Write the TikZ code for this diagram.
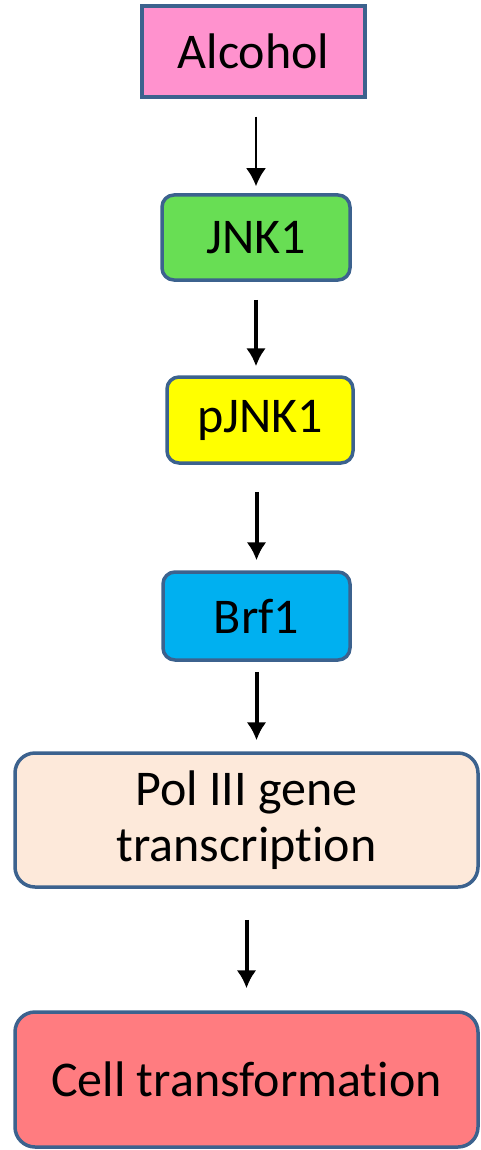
\documentclass[tikz,border=0pt]{standalone}
\usepackage{fontspec}
\setmainfont[Ligatures=NoCommon]{Carlito}
\usetikzlibrary{arrows.meta}
\definecolor{bord}{RGB}{60,98,142}
\definecolor{cpink}{RGB}{255,146,206}
\definecolor{cgreen}{RGB}{104,222,84}
\definecolor{cyellow}{RGB}{255,255,0}
\definecolor{cblue}{RGB}{0,176,240}
\definecolor{cpeach}{RGB}{253,233,218}
\definecolor{cred}{RGB}{255,124,128}
\tikzset{
  box/.style={draw=bord, line width=3.5pt, inner sep=0pt, align=center,
    font=\fontsize{50}{56}\selectfont, text=black},
  rbox/.style={box, rounded corners=12pt},
  bigbox/.style={box, rounded corners=20pt},
  arr/.style={line width=4pt, -{Latex[length=18pt,width=20pt]}},
}
\begin{document}
\begin{tikzpicture}[x=1pt,y=-1pt]
\useasboundingbox (0,0) rectangle (480,1150);
\node[box, fill=cpink, minimum width=223pt, minimum height=91pt] (alc) at (253.5,51.5) {Alcohol};
\node[rbox, fill=cgreen, minimum width=188pt, minimum height=85pt] (jnk) at (256,237.5) {JNK1};
\node[rbox, fill=cyellow, minimum width=186pt, minimum height=86pt] (pjnk) at (260,420) {pJNK1};
\node[rbox, fill=cblue, minimum width=187pt, minimum height=88pt] (brf) at (256.5,616) {Brf1};
\node[bigbox, fill=cpeach, minimum width=463pt, minimum height=134pt] (pol) at (246.5,820) {Pol III gene\\transcription};
\node[bigbox, fill=cred, minimum width=463pt, minimum height=135pt] (cell) at (246.5,1079.5) {Cell transformation};
\draw[arr, line width=2.5pt, shorten <=18pt, shorten >=7pt] (alc.south -| jnk.north) -- (jnk.north);
\draw[arr, shorten <=18pt, shorten >=9pt] (jnk.south) -- (jnk.south |- pjnk.north);
\draw[arr, shorten <=27pt, shorten >=10pt] (pjnk.south -| brf.north) -- (brf.north);
\draw[arr, shorten <=10pt, shorten >=11pt] (brf.south) -- (brf.south |- pol.north);
\draw[arr, shorten <=31pt, shorten >=22pt] (pol.south) -- (cell.north);
\end{tikzpicture}
\end{document}
